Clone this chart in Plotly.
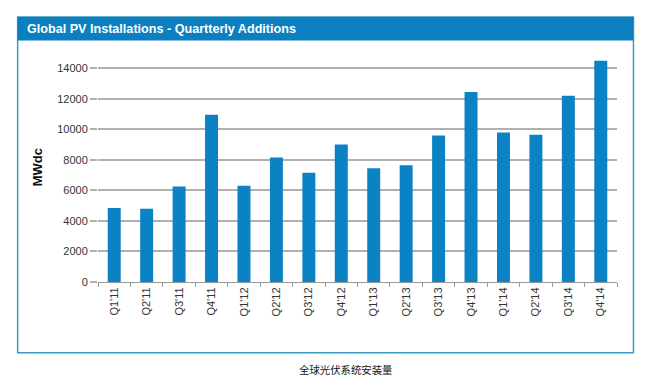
import plotly.graph_objects as go

quarters = ["Q1'11", "Q2'11", "Q3'11", "Q4'11", "Q1'12", "Q2'12", "Q3'12", "Q4'12",
            "Q1'13", "Q2'13", "Q3'13", "Q4'13", "Q1'14", "Q2'14", "Q3'14", "Q4'14"]
mwdc = [4850, 4800, 6250, 10950, 6300, 8150, 7150, 9000,
        7450, 7650, 9600, 12450, 9800, 9650, 12200, 14500]
y_ticks = [0, 2000, 4000, 6000, 8000, 10000, 12000, 14000]

OFF = 8  # default page body margin
W, H = 651 - OFF, 385 - OFF
L, R = 97.5 - OFF, 617.5 - OFF
T_PIX, B_PIX = 53.0 - OFF, 282.5 - OFF
YMAX = 15000

def px(x):
    return (x - OFF - L) / (R - L)

def py(y):
    return (B_PIX - (y - OFF)) / (B_PIX - T_PIX)

fig = go.Figure(go.Bar(x=quarters, y=mwdc, marker=dict(color="#0b82c4", line=dict(width=0)),
                       hoverinfo="x+y"))

shapes = [
    dict(type="rect", xref="paper", yref="paper", x0=px(17), x1=px(634), y0=py(17), y1=py(353.5),
         line=dict(color="#3a9cc0", width=1.5), fillcolor="rgba(0,0,0,0)", layer="below"),
    dict(type="rect", xref="paper", yref="paper", x0=px(17), x1=px(634), y0=py(17), y1=py(40.5),
         line=dict(width=0), fillcolor="#0b7fc0", layer="below"),
]

annotations = [
    dict(text="<b>Global PV Installations - Quartterly Additions</b>", xref="paper", yref="paper",
         x=px(24), y=py(29), xanchor="left", yanchor="middle", showarrow=False,
         font=dict(family="Liberation Sans, Arial", size=12.6, color="white")),
    dict(text="<b>MWdc</b>", xref="paper", yref="paper", x=px(37), y=py(168), textangle=-90,
         xanchor="center", yanchor="middle", showarrow=False,
         font=dict(family="Liberation Sans, Arial", size=13, color="#111")),
    dict(text="全球光伏系统安装量", xref="paper", yref="paper", x=px(346), y=py(370),
         xanchor="center", yanchor="middle", showarrow=False,
         font=dict(family="Noto Sans CJK SC", size=10.4, color="#111")),
]

fig.update_layout(
    width=W, height=H,
    margin=dict(l=L, r=W - R, t=T_PIX, b=H - B_PIX, pad=0),
    paper_bgcolor="white", plot_bgcolor="white",
    bargap=0.6, showlegend=False,
    shapes=shapes, annotations=annotations,
    font=dict(family="Liberation Sans, Arial", size=11, color="#333"),
)
fig.update_xaxes(tickangle=-90, showgrid=False, showline=True, linecolor="#999", linewidth=1,
                 ticks="outside", tickson="boundaries", ticklen=4, tickcolor="#999",
                 tickfont=dict(size=11, color="#333"), fixedrange=True)
fig.update_yaxes(range=[0, YMAX], tickvals=y_ticks, tickformat="d", showgrid=True,
                 gridcolor="#b0b0b0", gridwidth=1.5,
                 zeroline=False, showline=False, ticks="outside", ticklen=7, tickcolor="#b0b0b0",
                 tickwidth=1.5, tickfont=dict(size=11, color="#333"), fixedrange=True)

fig.write_html("out.html")
